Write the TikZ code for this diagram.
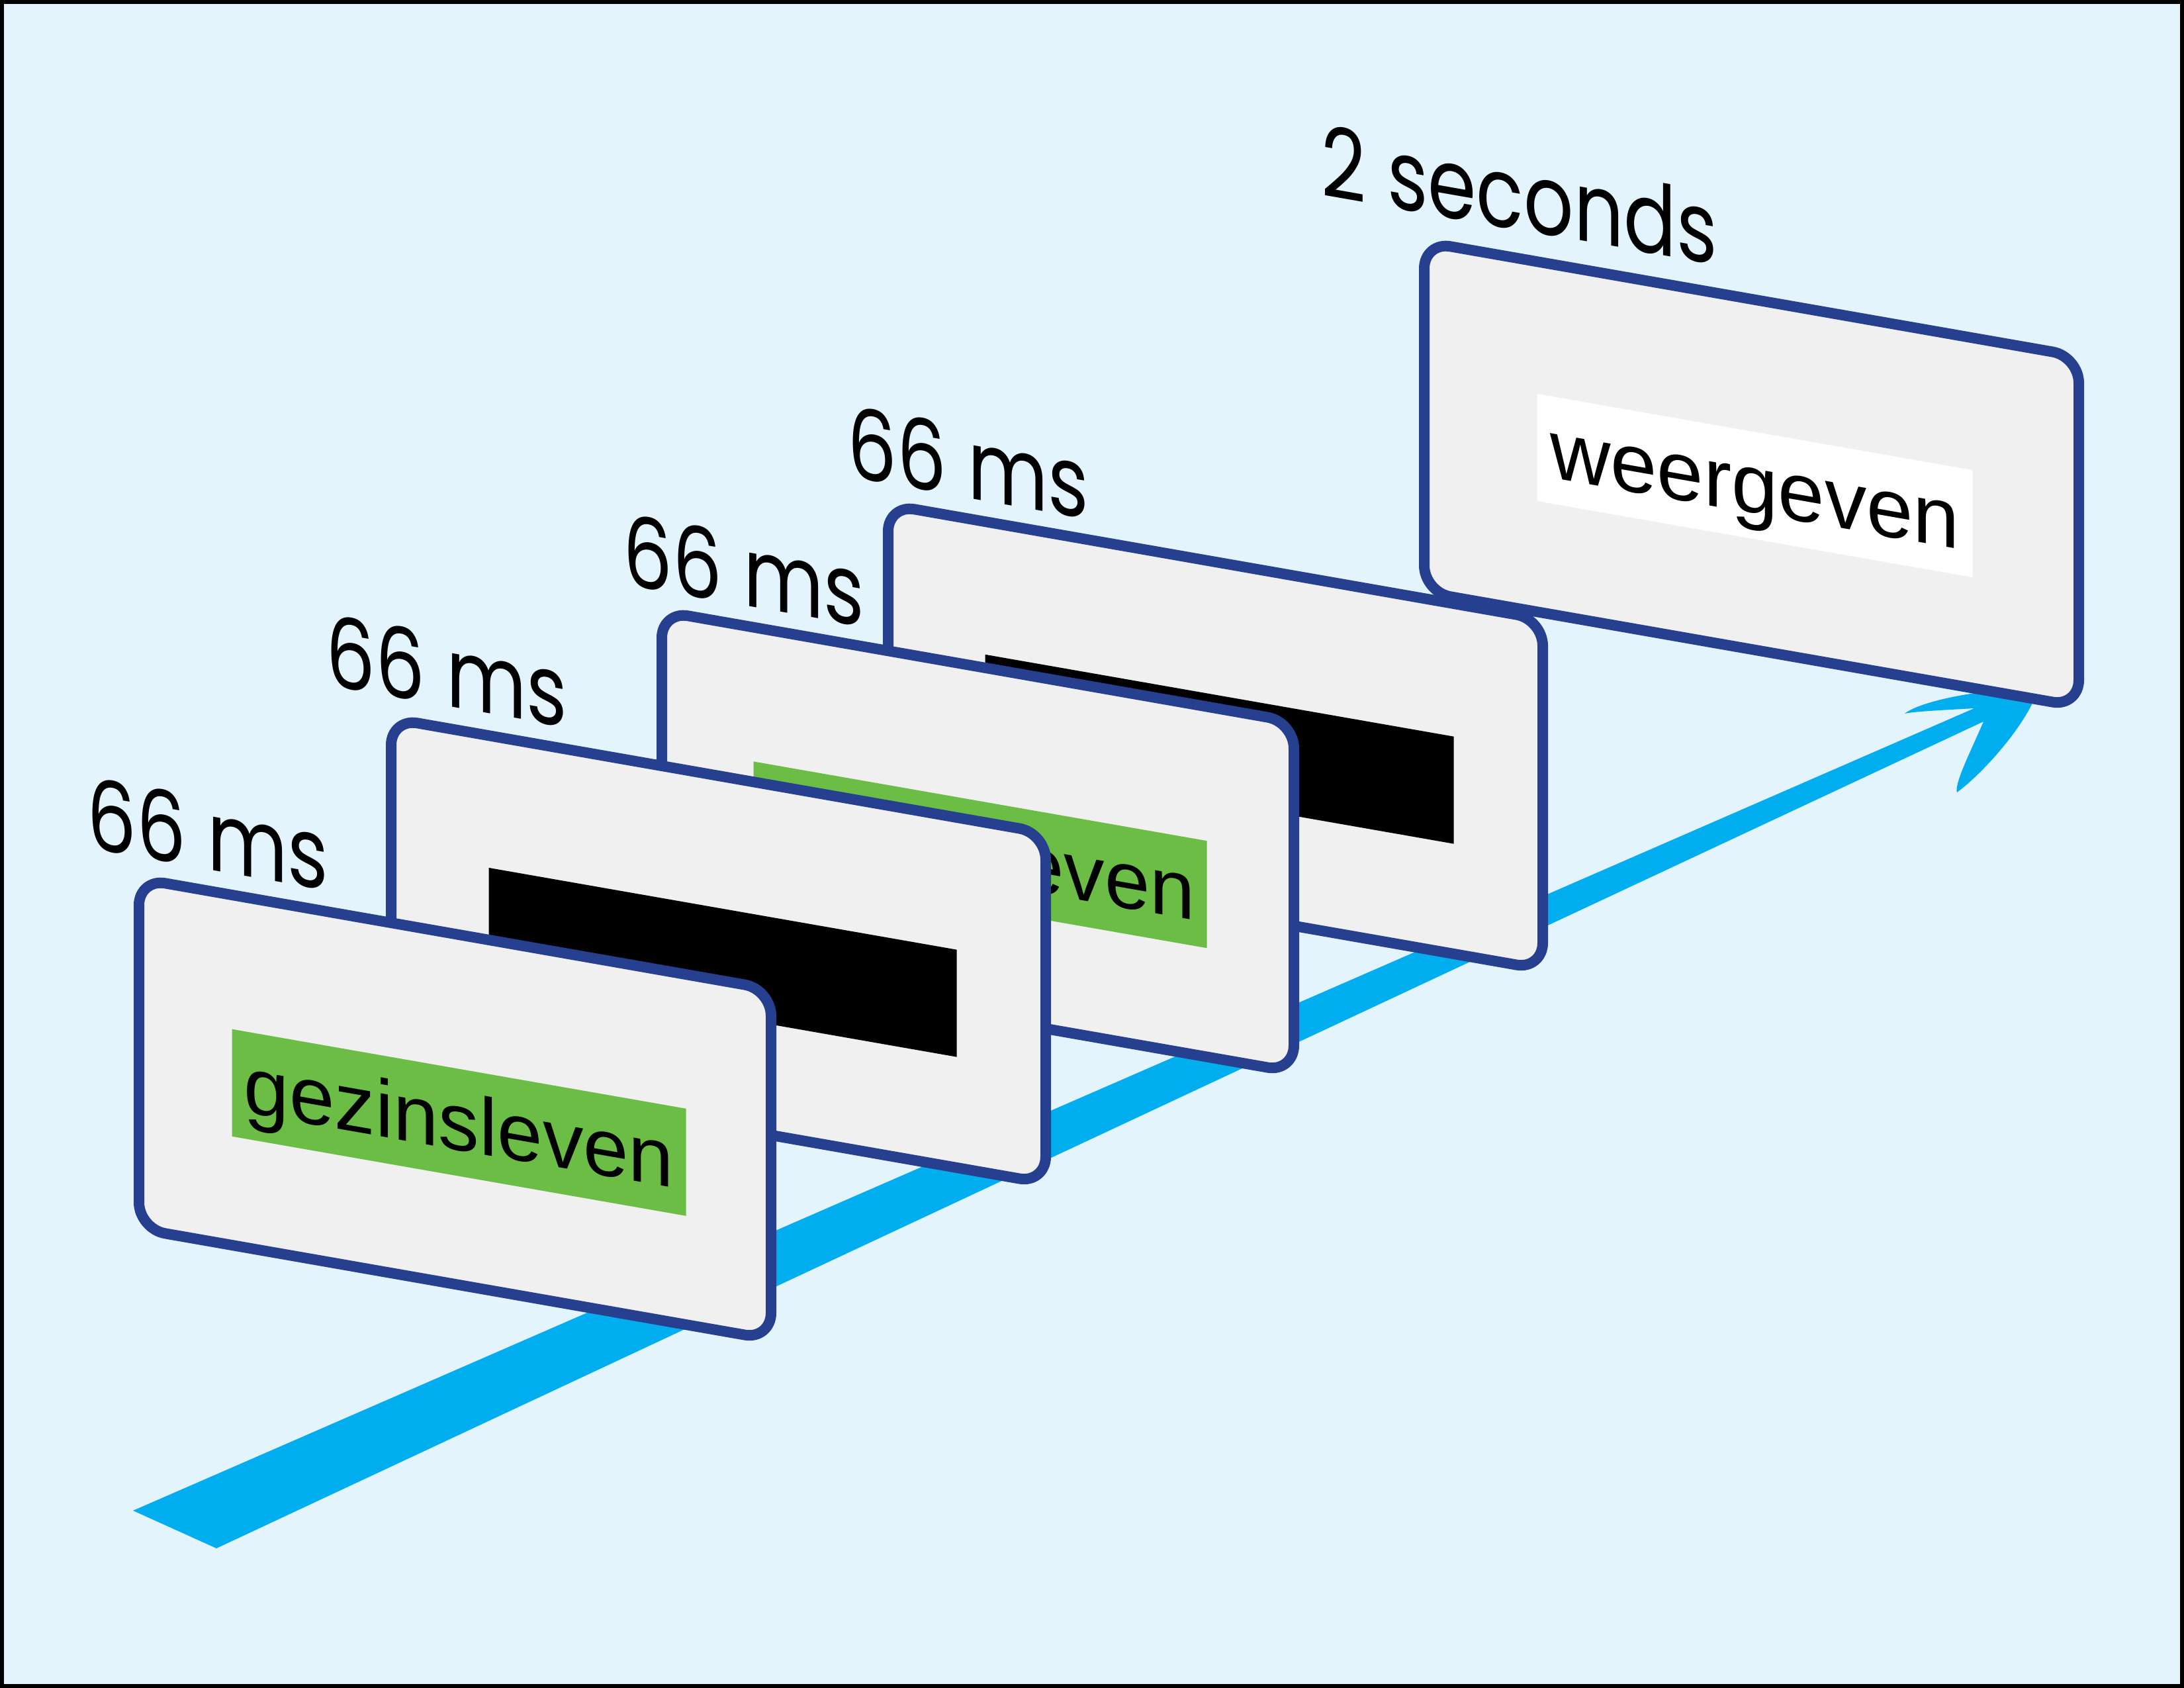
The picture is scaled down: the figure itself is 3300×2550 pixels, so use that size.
\documentclass[tikz,border=0pt]{standalone}
\usepackage{fontspec}
\setmainfont{Liberation Sans}
\newfontfamily\durfont[FakeStretch=0.8]{Poppins}
\usepackage{tikz}
\definecolor{sky}{RGB}{227,244,252}
\definecolor{axis}{RGB}{0,174,239}
\definecolor{rim}{RGB}{38,64,143}
\definecolor{slide}{RGB}{240,240,240}
\definecolor{prime}{RGB}{108,189,69}

\begin{document}
\begin{tikzpicture}[x=0.1mm, y=-0.1mm,
  panel/.style={draw=rim, fill=slide, line width=1.6mm, rounded corners=4mm, anchor=north west,
                minimum height=52.9mm, inner sep=0pt, transform shape},
  word/.style={anchor=north west, inner sep=0pt, minimum height=16.2mm, text height=12.3mm,
               text depth=3.9mm, transform shape, font=\fontsize{35}{40}\selectfont},
  dur/.style={anchor=base west, inner sep=0pt, transform shape,
              font=\durfont\fontsize{42}{48}\selectfont}]

\fill[sky] (0,0) rectangle (3300,2550);
\draw[line width=0.6mm] (3,3) rectangle (3297,2547);

% time axis
\fill[axis] (201,2282) -- (2983,1070) .. controls (2930,1073) and (2890,1075) .. (2878,1078)
  .. controls (2900,1060) and (2990,1040) .. (3080,1040)
  .. controls (3065,1090) and (3000,1165) .. (2957,1197)
  .. controls (2952,1185) and (2980,1130) .. (2997,1090) -- (327,2339) -- cycle;

\begin{scope}[shift={(2144,356)}, yslant=-0.175]
  \node[panel, minimum width=98.9mm] (p5) at (0,0) {};
  \node[word, fill=white, minimum width=65.8mm, font=\fontsize{36}{40}\selectfont] (w5) at (178,207) {weergeven};
  \node[dur] (d5) at (-148,-35) {2 seconds};
\end{scope}

\begin{scope}[shift={(1334,753)}, yslant=-0.175]
  \node[panel, minimum width=98.9mm] (p4) at (0,0) {};
  \node[word, fill=black, minimum width=70.8mm, font=\fontsize{36}{40}\selectfont] (w4) at (154,208) {gezinsleven};
  \node[dur] (d4) at (-54,-23) {66 ms};
\end{scope}

\begin{scope}[shift={(992,914)}, yslant=-0.175]
  \node[panel, minimum width=95.5mm] (p3) at (0,0) {};
  \node[word, fill=prime, minimum width=68.5mm] (w3) at (146,210) {gezinsleven};
  \node[dur] (d3) at (-51,-22) {66 ms};
\end{scope}

\begin{scope}[shift={(583,1076)}, yslant=-0.175]
  \node[panel, minimum width=98.9mm] (p2) at (0,0) {};
  \node[word, fill=black, minimum width=70.7mm, font=\fontsize{36}{40}\selectfont] (w2) at (155,207) {gezinsleven};
  \node[dur] (d2) at (-91,-25) {66 ms};
\end{scope}

\begin{scope}[shift={(202,1318)}, yslant=-0.175]
  \node[panel, minimum width=95.5mm] (p1) at (0,0) {};
  \node[word, fill=prime, minimum width=68.6mm] (w1) at (148,210) {gezinsleven};
  \node[dur] (d1) at (-71,-24) {66 ms};
\end{scope}
\end{tikzpicture}
\end{document}
